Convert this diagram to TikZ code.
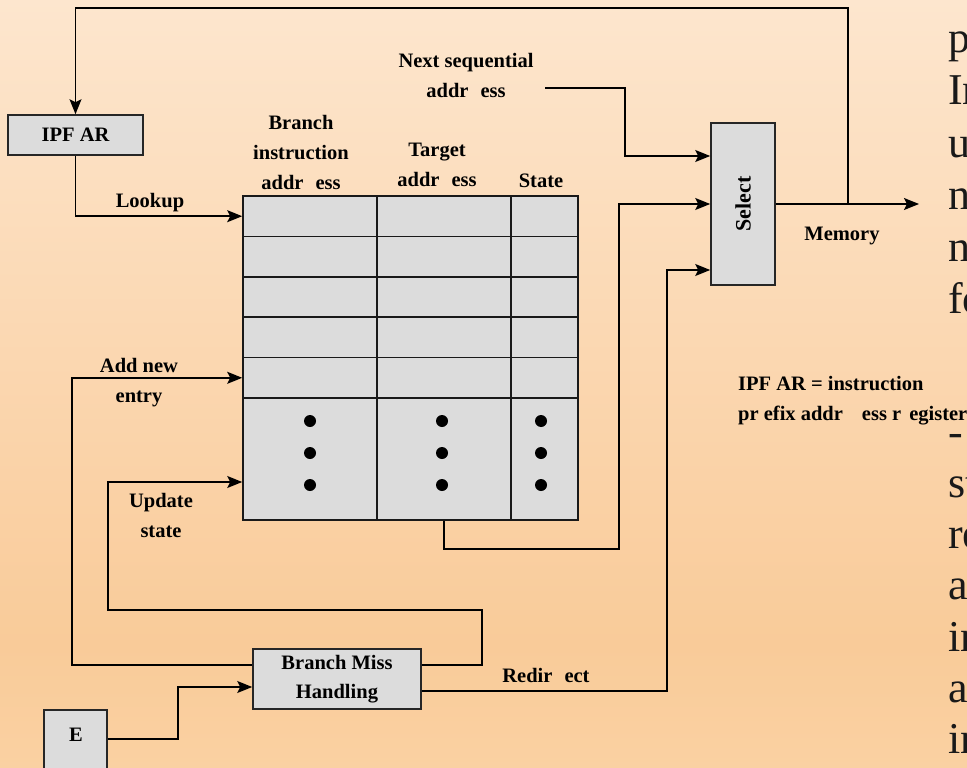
\documentclass[tikz,border=0pt]{standalone}
\usepackage{fontspec}
\setmainfont{Liberation Serif}
\usetikzlibrary{arrows.meta, positioning, calc}

\definecolor{bgtop}{RGB}{253,230,206}
\definecolor{bgmid}{RGB}{249,203,153}
\definecolor{bgbot}{RGB}{250,209,162}
\definecolor{boxgray}{RGB}{220,220,220}
\pgfdeclareverticalshading{slidebg}{100bp}{color(0bp)=(bgbot); color(25bp)=(bgbot);
  color(33bp)=(bgmid); color(75bp)=(bgtop); color(100bp)=(bgtop)}
\newcommand{\brk}{\hspace{12pt}}

\begin{document}
\begin{tikzpicture}[
  x=1pt, y=-1pt,
  box/.style={draw=black!85, line width=1.6pt, fill=boxgray, inner sep=0pt,
    font=\bfseries\fontsize{20.5}{29}\selectfont, align=center},
  cell/.style={draw=black!90, line width=1.6pt, fill=boxgray, inner sep=0pt},
  lbl/.style={font=\bfseries\fontsize{20.5}{30}\selectfont, align=center, inner sep=0pt},
  wire/.style={line width=1.5pt},
  arr/.style={wire, -{Stealth[length=15pt, width=12pt, inset=3pt]}},
  slide/.style={font=\fontsize{44}{52}\selectfont, anchor=base west, inner sep=0pt, text=black!90}
]
\shade[shading=slidebg] (0,0) rectangle (967,768);
\useasboundingbox (0,0) rectangle (967,768);
\clip (0,0) rectangle (967,768);

% slide text behind the figure
\foreach \w [count=\i from 0] in {p,In,u,n,n,fo}
  \node[slide] (top\i) at (948,53+52*\i) {\w};
\foreach \w [count=\i from 0] in {-,st,re,a,in,a,in}
  \node[slide] (low\i) at (948,446+51.3*\i) {\w};

% table
\foreach \r in {1,...,5} {
  \node[cell, minimum width=134, minimum height=40.4] (a\r) at (310,175.8+40.4*\r) {};
  \node[cell, minimum width=134, minimum height=40.4] (b\r) at (444,175.8+40.4*\r) {};
  \node[cell, minimum width=67, minimum height=40.4] (c\r) at (544.5,175.8+40.4*\r) {};
}
\node[cell, minimum width=134, minimum height=122] (a6) at (310,459) {};
\node[cell, minimum width=134, minimum height=122] (b6) at (444,459) {};
\node[cell, minimum width=67, minimum height=122] (c6) at (544.5,459) {};
\foreach \x in {310,442,541}
  \foreach \y in {421,453,485}
    \fill (\x,\y) circle (6);

\node[box, minimum width=135, minimum height=40] (ipfar) at (75.5,135) {IPF AR};
\node[box, minimum width=64, minimum height=162] (select) at (743,204) {};
\node[lbl, rotate=90, font=\bfseries\fontsize{22}{30}\selectfont] (seltxt) at (select) {Select};
\node[box, minimum width=168, minimum height=60] (bmh) at (337,679) {Branch Miss\\Handling};
\node[box, minimum width=63, minimum height=100, anchor=north] (ebox) at (75.5,709) {};
\node[lbl] (etxt) at (76,735) {E};

\node[lbl] (lookup) at (150,203) {Lookup};
\node[lbl] (nsa) at (466,75) {Next sequential\\addr\brk ess};
\node[lbl] (bia) at (301,152) {Branch\\instruction\\addr\brk ess};
\node[lbl] (ta) at (437,165) {Target\\addr\brk ess};
\node[lbl] (st) at (541,181) {State};
\node[lbl] (mem) at (842,236) {Memory};
\node[lbl, anchor=west, align=left] (note) at (738,401) {IPF AR = instruction\\pr efix addr\hspace{19pt}ess r\hspace{8pt}egister};
\node[lbl] (add) at (139,383) {Add new\\entry};
\node[lbl] (upd) at (161,515) {Update\\state};
\node[lbl] (redir) at (546,675) {Redir\brk ect};

\coordinate (nsaend) at (545,88);
\coordinate (tap) at (848,204);
\coordinate (memout) at (919,204);

\draw[arr] (select.east) -- (memout);
\draw[arr] (tap) -- ++(0,-196) -| (ipfar.north);
\draw[arr] (ipfar.south) |- (a1.west);
\draw[arr] (nsaend) -- ++(80,0) |- ($(select.west)+(0,-48)$);
\draw[arr] (b6.south) -- ++(0,28) -| ($(select.west)+(-91,0)$) -- (select.west);
\draw[arr] ($(bmh.east)+(0,12)$) -- ++(245,0) |- ($(select.west)+(0,66)$);
\draw[arr] ($(bmh.east)+(0,-14)$) -- ++(60,0) -- ++(0,-55) -- ++(-374,0) |- ($(a6.west)+(0,23)$);
\draw[arr] ($(bmh.west)+(0,-14)$) -- ++(-180,0) |- (a5.west);
\draw[arr] ($(ebox.north east)+(0,30)$) -- ++(70,0) |- ($(bmh.west)+(0,8)$);
\end{tikzpicture}
\end{document}
